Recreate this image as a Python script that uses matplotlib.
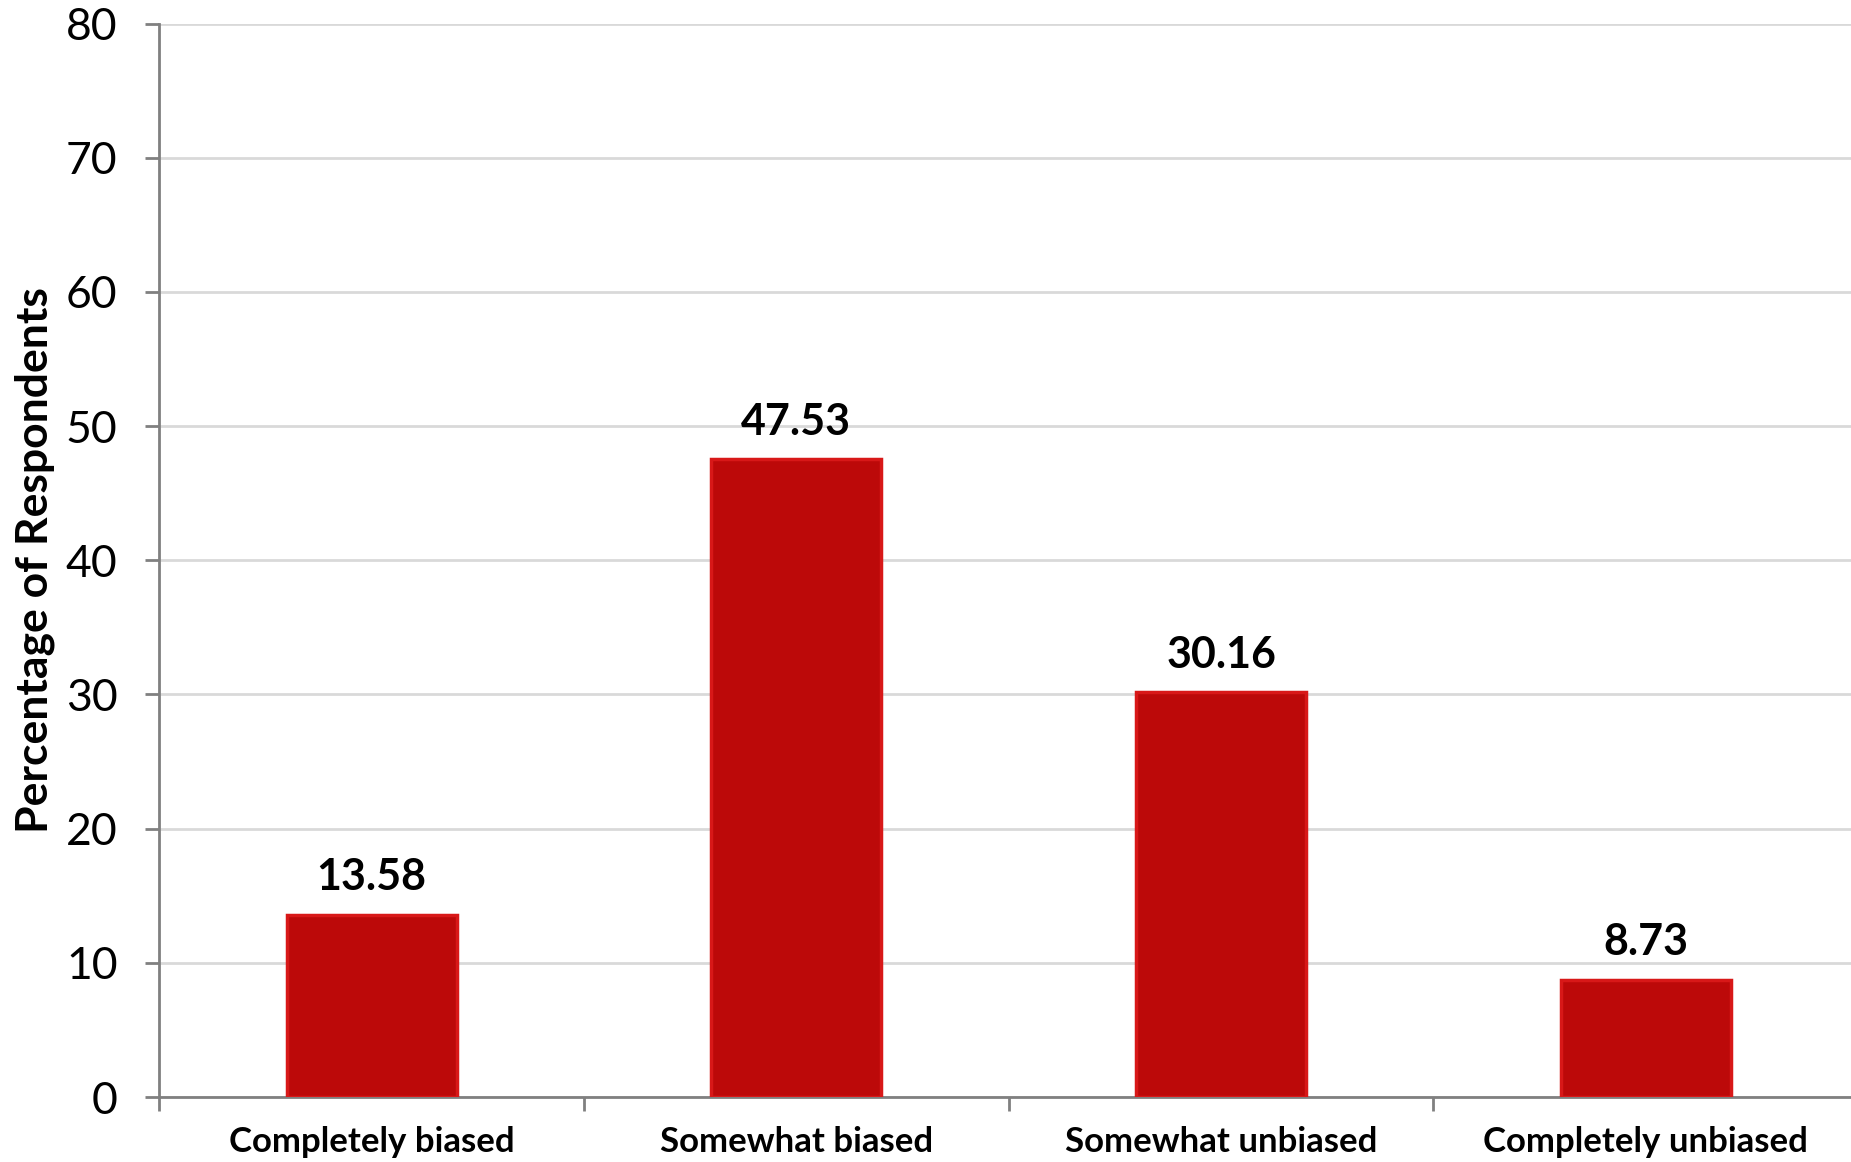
import numpy as np
import matplotlib.pyplot as plt

categories = ['Completely biased', 'Somewhat biased', 'Somewhat unbiased', 'Completely unbiased']
values = [13.58, 47.53, 30.16, 8.73]
yticks = [0, 10, 20, 30, 40, 50, 60, 70, 80]

plt.rcParams['font.family'] = ['Lato', 'DejaVu Sans']

fig = plt.figure(figsize=(18.51, 11.62), dpi=100)
ax = fig.add_axes([0.0861, 0.0559, 0.9177, 0.9238])

x = np.arange(len(categories))
bars = ax.bar(x, values, width=0.4, color='#BC0909', edgecolor='#D81818',
              linewidth=2.5, zorder=3)

for rect, v in zip(bars, values):
    ax.text(rect.get_x() + rect.get_width() / 2, v + 1.3, '%.2f' % v,
            ha='center', va='bottom', fontsize=31, fontweight='bold')

ax.set_xlim(-0.5, len(categories) - 0.5)
ax.set_ylim(0, 80)
ax.set_yticks(yticks)
ax.tick_params(axis='y', labelsize=32, length=10, width=2, color='#808080', pad=20)
ax.yaxis.grid(True, color='#D9D9D9', linewidth=2, zorder=0)

ax.set_xticks(np.arange(len(categories) + 1) - 0.5)
ax.set_xticklabels([])
ax.set_xticks(x, minor=True)
ax.set_xticklabels(categories, minor=True, fontsize=25, fontweight='bold')
ax.tick_params(axis='x', which='major', length=10, width=2, color='#808080')
ax.tick_params(axis='x', which='minor', length=0, pad=21)

for side in ['top', 'right']:
    ax.spines[side].set_visible(False)
for side in ['left', 'bottom']:
    ax.spines[side].set_color('#808080')
    ax.spines[side].set_linewidth(2)

ax.set_ylabel('Percentage of Respondents', fontsize=32, fontweight='bold', labelpad=8)

fig.savefig('out.png', dpi=100)
